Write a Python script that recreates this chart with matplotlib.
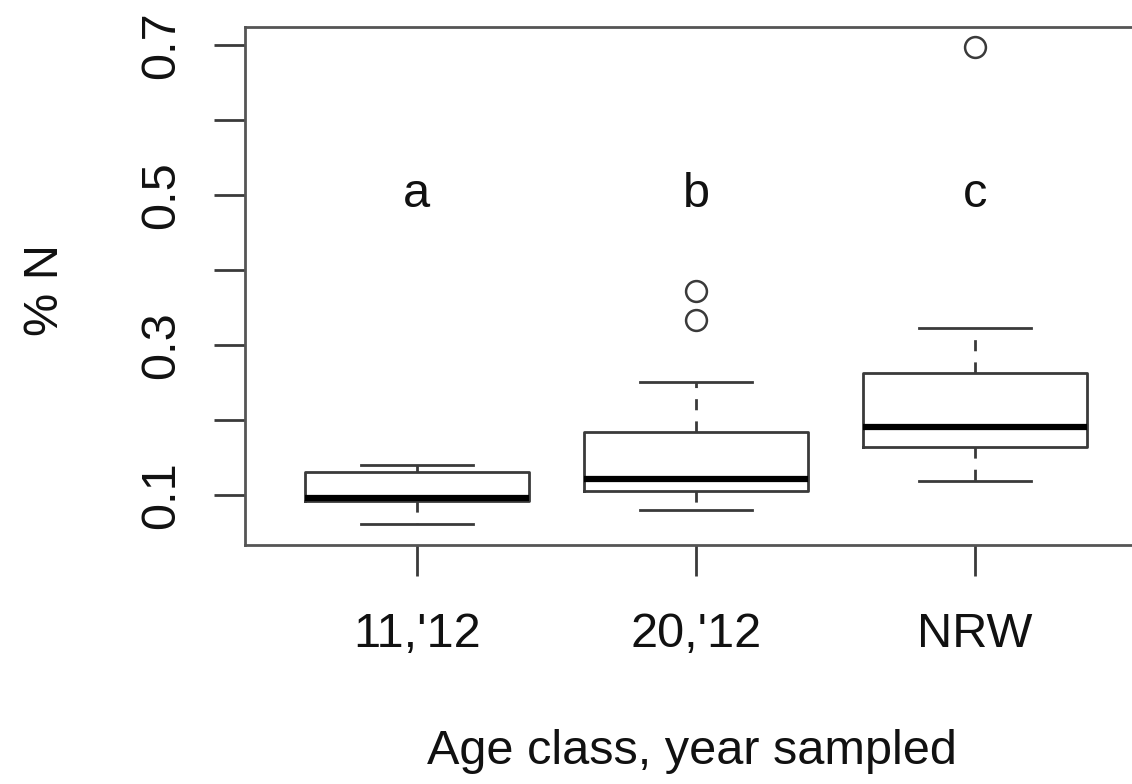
import matplotlib
matplotlib.use("Agg")
import matplotlib.pyplot as plt

# ---- data ----
categories = ["11,'12", "20,'12", "NRW"]
whislo = [0.061, 0.080, 0.119]
q1 = [0.092, 0.105, 0.164]
med = [0.096, 0.121, 0.191]
q3 = [0.131, 0.184, 0.263]
whishi = [0.140, 0.251, 0.323]
outliers = [[], [0.333, 0.372], [0.697]]
letters = ["a", "b", "c"]
letter_y = 0.5
yticks = [0.1, 0.2, 0.3, 0.4, 0.5, 0.6, 0.7]
ytick_labels = ["0.1", "", "0.3", "", "0.5", "", "0.7"]

plt.rcParams['font.family'] = ['Liberation Sans', 'DejaVu Sans']
FS = 35
W, H = 1132, 784
fig = plt.figure(figsize=(W / 100, H / 100), dpi=100)
ax = fig.add_axes([245 / W, 1 - 545 / H, (1147 - 245) / W, (545 - 27) / H])

stats = []
for i in range(len(categories)):
    stats.append(dict(whislo=whislo[i], q1=q1[i], med=med[i], q3=q3[i],
                      whishi=whishi[i], fliers=outliers[i], label=categories[i]))

lc = "#3a3a3a"
ax.bxp(stats, positions=[1, 2, 3], widths=0.8, showfliers=True,
       boxprops=dict(color=lc, linewidth=2.0),
       medianprops=dict(color="black", linewidth=4.5, solid_capstyle="butt"),
       whiskerprops=dict(color=lc, linewidth=2.0, linestyle=(0, (4, 4))),
       capprops=dict(color=lc, linewidth=2.0),
       capwidths=0.4,
       flierprops=dict(marker="o", markersize=15, markerfacecolor="none",
                       markeredgecolor=lc, markeredgewidth=1.8, linestyle="none"))

for i, t in enumerate(letters):
    ax.text(i + 1, letter_y, t, ha="center", va="center", fontsize=FS, color="#111")

ax.set_xlim(0.384, 3.616)
ax.set_ylim(0.0333, 0.724)
ax.set_yticks(yticks)
ax.set_yticklabels(ytick_labels, rotation=90, va="center", fontsize=FS)
ax.set_xticks([1, 2, 3])
ax.set_xticklabels(categories, fontsize=FS)
ax.tick_params(axis="both", length=22, width=2, color=lc, labelcolor="#111")
ax.tick_params(axis="x", pad=26)
ax.tick_params(axis="y", pad=22)

for s in ax.spines.values():
    s.set_color("#555")
    s.set_linewidth(2.0)

fig.text(45 / W, 1 - 290 / H, "% N", rotation=90, ha="center", va="center", fontsize=FS, color="#111")
fig.text(692 / W, 1 - 752 / H, "Age class, year sampled", ha="center", va="center", fontsize=FS, color="#111")

fig.savefig("out.png", dpi=100)
